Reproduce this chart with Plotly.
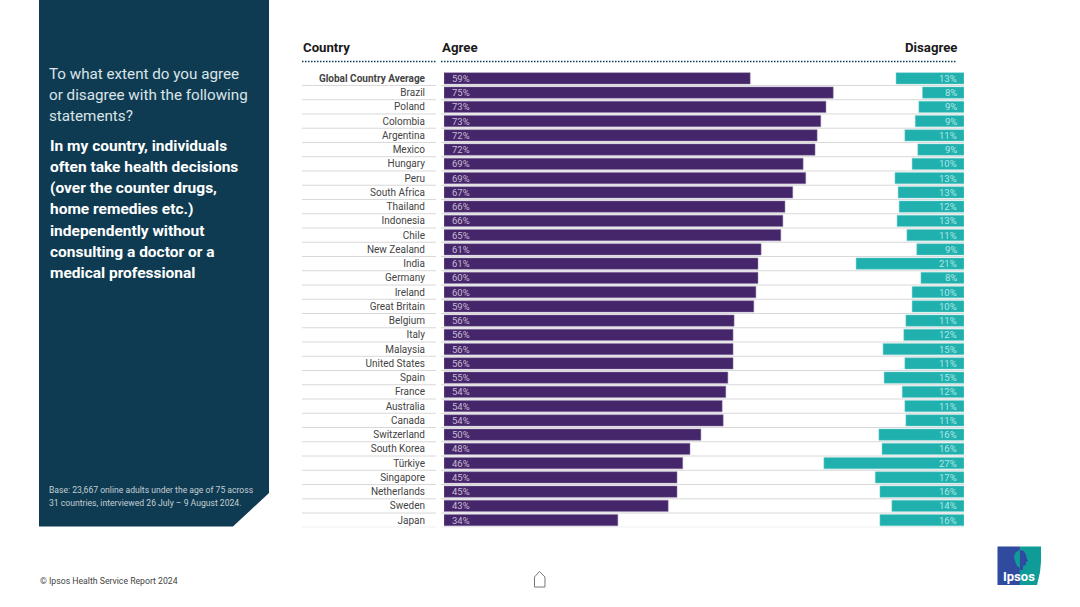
import plotly.graph_objects as go

countries = ['Global Country Average', 'Brazil', 'Poland', 'Colombia', 'Argentina', 'Mexico', 'Hungary', 'Peru',
             'South Africa', 'Thailand', 'Indonesia', 'Chile', 'New Zealand', 'India', 'Germany', 'Ireland',
             'Great Britain', 'Belgium', 'Italy', 'Malaysia', 'United States', 'Spain', 'France', 'Australia',
             'Canada', 'Switzerland', 'South Korea', 'Türkiye', 'Singapore', 'Netherlands', 'Sweden', 'Japan']
# printed labels
agree_labels = [59, 75, 73, 73, 72, 72, 69, 69, 67, 66, 66, 65, 61, 61, 60, 60,
                59, 56, 56, 56, 56, 55, 54, 54, 54, 50, 48, 46, 45, 45, 43, 34]
disagree_labels = [13, 8, 9, 9, 11, 9, 10, 13, 13, 12, 13, 11, 9, 21, 8, 10,
                   10, 11, 12, 15, 11, 15, 12, 11, 11, 16, 16, 27, 17, 16, 14, 16]
# bar lengths
agree = [59.0, 75.0, 73.6, 72.6, 71.9, 71.5, 69.2, 69.7, 67.2, 65.7, 65.3, 64.9, 61.1, 60.5, 60.5, 60.1,
         59.7, 55.9, 55.7, 55.7, 55.7, 54.7, 54.3, 53.6, 53.8, 49.5, 47.4, 46.0, 44.9, 44.9, 43.2, 33.5]
disagree = [13.1, 8.0, 8.7, 9.4, 11.4, 8.9, 10.0, 13.3, 12.7, 12.5, 12.9, 11.0, 9.1, 20.8, 8.3, 10.0,
            10.0, 11.2, 11.6, 15.6, 11.4, 15.4, 11.9, 11.4, 11.2, 16.4, 15.8, 27.0, 17.1, 16.2, 13.9, 16.2]

question_lines = ['To what extent do you agree', 'or disagree with the following', 'statements?']
statement_lines = ['In my country, individuals', 'often take health decisions', '(over the counter drugs,',
                   'home remedies etc.)', 'independently without', 'consulting a doctor or a', 'medical professional']
base_lines = ['Base: 23,667 online adults under the age of 75 across',
              '31 countries, interviewed 26 July – 9 August 2024.']

W, H = 1080, 607
FONT = 'Roboto'
PANEL = '#0f3b52'
PURPLE = '#46266a'
TEAL = '#20b1ae'


def px(x):
    return x / W


def py(y):
    return 1 - y / H


def path(*pts, close=True):
    s = 'M' + ' L'.join(f'{px(x):.4f},{py(y):.4f}' for x, y in pts)
    return s + (' Z' if close else '')


def label(x, y, text, size, color, anchor='left', bold=False):
    if bold:
        text = f'<b>{text}</b>'
    # annotations carry ~2px of padding
    pad = {'left': -2.3, 'right': 2.3, 'center': 0}[anchor]
    return dict(xref='paper', yref='paper', x=px(x + pad), y=py(y), text=text, showarrow=False, xanchor=anchor,
                yanchor='middle', font=dict(family=FONT, size=size, color=color))


rows = list(range(len(countries)))
fig = go.Figure()

fig.add_trace(go.Bar(y=rows, x=agree, orientation='h', width=0.8, xaxis='x', yaxis='y',
                     marker=dict(color=PURPLE, line=dict(color='#8f7da6', width=0.5))))
fig.add_trace(go.Bar(y=rows, x=disagree, orientation='h', width=0.8, xaxis='x2', yaxis='y',
                     marker=dict(color=TEAL, line=dict(color='#7fd3d0', width=0.5))))

shapes = []
# left panel
shapes.append(dict(type='path', xref='paper', yref='paper', layer='below', fillcolor=PANEL, line=dict(width=0),
                   path=path((39, 0), (269, 0), (269, 493), (233, 526.5), (39, 526.5))))
# row separators
for i in rows:
    for x0, x1 in [(302, 436), (441, 964)]:
        shapes.append(dict(type='line', xref='paper', yref='y', layer='below', x0=px(x0), x1=px(x1),
                           y0=i + 0.5, y1=i + 0.5, line=dict(color='#d8d8d8', width=1)))
# dotted header rules
for x0, x1 in [(302, 436), (441, 957)]:
    shapes.append(dict(type='line', xref='paper', yref='paper', x0=px(x0), x1=px(x1), y0=py(61.5), y1=py(61.5),
                       line=dict(color=PANEL, width=1.5, dash='1.5px,1.5px')))
# home icon
shapes.append(dict(type='path', xref='paper', yref='paper', fillcolor='rgba(0,0,0,0)',
                   line=dict(color='#777777', width=1),
                   path=path((534.5, 587), (534.5, 577), (539.5, 571.5), (545, 577), (545, 587))))
# logo
shapes.append(dict(type='path', xref='paper', yref='paper', fillcolor='#2f4a9e', line=dict(width=0),
                   path=path((997.5, 546.5), (1020, 546.5), (1020, 585), (997.5, 585))))
shapes.append(dict(type='path', xref='paper', yref='paper', fillcolor='#0f9c98', line=dict(width=0),
                   path=path((1020, 546.5), (1041, 546.5), (1041, 562), (1040, 572), (1037, 585), (1020, 585))))
# head, back half teal on blue
shapes.append(dict(type='path', xref='paper', yref='paper', fillcolor='#0f9c98', line=dict(width=0),
                   path=path((1020, 568), (1017, 566), (1015, 561), (1014, 556), (1016, 552), (1020, 550))))
# face, blue on teal
shapes.append(dict(type='path', xref='paper', yref='paper', fillcolor='#2f4a9e', line=dict(width=0),
                   path=path((1020, 550), (1024, 551), (1026, 555), (1027, 559), (1028, 561), (1026, 562),
                             (1026, 565), (1023, 566), (1023, 570), (1020, 570))))

annotations = []
for i, t in enumerate(question_lines):
    annotations.append(label(49.5, 74 + i * 21.2, t, 15.2, '#dbe4e8'))
for i, t in enumerate(statement_lines):
    annotations.append(label(50, 146 + i * 21.15, t, 15.5, '#ffffff', bold=True))
for i, t in enumerate(base_lines):
    annotations.append(label(49.5, 490 + i * 13, t, 8.6, '#c3ced4'))
annotations.append(label(303, 47.5, 'Country', 13.2, '#1a1a1a', bold=True))
annotations.append(label(442, 47.5, 'Agree', 13.3, '#1a1a1a', bold=True))
annotations.append(label(957, 47.5, 'Disagree', 13.2, '#1a1a1a', anchor='right', bold=True))
annotations.append(label(40, 580.5, '© Ipsos Health Service Report 2024', 8.7, '#444444'))
annotations.append(label(1019, 576, 'Ipsos', 13, '#ffffff', anchor='center', bold=True))
# value labels inside the bars
for i in rows:
    annotations.append(dict(xref='x', yref='y', x=1.2, y=i, text=f'{agree_labels[i]}%', showarrow=False,
                            xanchor='left', yanchor='middle', yshift=0,
                            font=dict(family=FONT, size=9.5, color='#c8bcd6')))
    annotations.append(dict(xref='x2', yref='y', x=1.0, y=i, text=f'{disagree_labels[i]}%', showarrow=False,
                            xanchor='right', yanchor='middle', yshift=0,
                            font=dict(family=FONT, size=9.5, color='#b5e6e4')))

ticktext = ['<b>' + countries[0] + '</b>'] + countries[1:]

fig.update_layout(
    width=W, height=H, margin=dict(l=0, r=0, t=0, b=0), autosize=False,
    paper_bgcolor='white', plot_bgcolor='rgba(0,0,0,0)', showlegend=False, barmode='overlay',
    font=dict(family=FONT),
    xaxis=dict(domain=[px(444), px(964)], range=[0, 100.2], visible=False),
    xaxis2=dict(domain=[px(444), px(964)], range=[100.2, 0], visible=False, overlaying='x', anchor='y'),
    yaxis=dict(domain=[py(527.3), py(71.2)], range=[len(rows) - 0.5, -0.5], tickmode='array', tickvals=rows,
               ticktext=ticktext, showgrid=False, zeroline=False, showline=False, ticks='',
               ticklabelstandoff=18, tickfont=dict(family=FONT, size=10, color='#444444')),
    shapes=shapes, annotations=annotations,
)

fig.write_html("out.html", config={'displayModeBar': False},
               post_script="document.body.style.margin='0';document.body.style.overflow='hidden';")
